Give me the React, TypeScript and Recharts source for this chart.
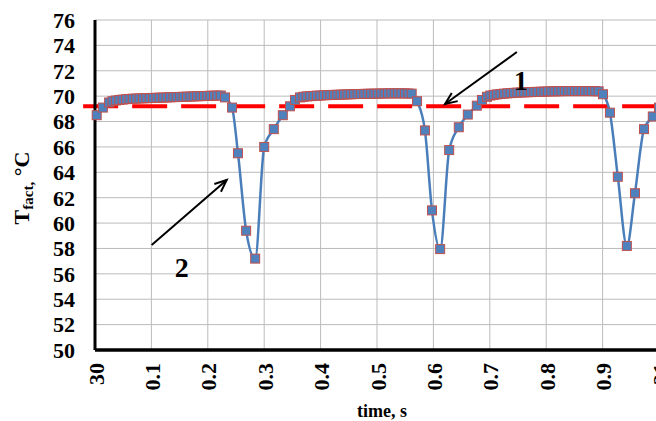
import React from "react";
import {
  LineChart,
  Line,
  XAxis,
  YAxis,
  CartesianGrid,
  ReferenceLine,
  ReferenceDot,
} from "recharts";

// time offset in s (0 = 30 s), measured temperature in °C
const plateau1: [number, number][] = [
  [0.003, 68.5], [0.014, 69.1], [0.025, 69.5], [0.031, 69.6], [0.037, 69.66],
  [0.043, 69.7], [0.049, 69.73], [0.055, 69.76], [0.061, 69.78], [0.067, 69.8],
  [0.073, 69.81], [0.079, 69.82], [0.085, 69.83], [0.091, 69.84], [0.097, 69.85],
  [0.103, 69.86], [0.109, 69.87], [0.115, 69.88], [0.121, 69.89], [0.127, 69.9],
  [0.133, 69.91], [0.139, 69.92], [0.145, 69.93], [0.151, 69.94], [0.157, 69.95],
  [0.163, 69.96], [0.169, 69.97], [0.175, 69.98], [0.181, 69.99], [0.187, 70.0],
  [0.193, 70.01], [0.199, 70.02], [0.205, 70.03], [0.211, 70.04], [0.217, 70.05],
  [0.223, 70.05], [0.2305, 69.9],
];
const dip1: [number, number][] = [
  [0.243, 69.1], [0.2535, 65.5], [0.268, 59.4], [0.284, 57.2], [0.3, 66.0],
  [0.317, 67.4], [0.333, 68.5], [0.3457, 69.2], [0.3546, 69.7], [0.3635, 69.9],
];
const plateau2: [number, number][] = [
  [0.3695, 69.95], [0.3755, 69.98], [0.3815, 70.0], [0.3875, 70.02], [0.3935, 70.04],
  [0.3995, 70.05], [0.4055, 70.07], [0.4115, 70.08], [0.4175, 70.09], [0.4235, 70.1],
  [0.4295, 70.11], [0.4355, 70.12], [0.4415, 70.13], [0.4475, 70.14], [0.4535, 70.15],
  [0.4595, 70.16], [0.4655, 70.17], [0.4715, 70.17], [0.4775, 70.18], [0.4835, 70.19],
  [0.4895, 70.19], [0.4955, 70.2], [0.5015, 70.2], [0.5075, 70.21], [0.5135, 70.21],
  [0.5195, 70.22], [0.5255, 70.22], [0.5315, 70.22], [0.5375, 70.22], [0.5435, 70.22],
  [0.5495, 70.22], [0.5555, 70.21], [0.5615, 70.2], [0.571, 69.6],
];
const dip2: [number, number][] = [
  [0.585, 67.3], [0.5975, 61.0], [0.612, 57.95], [0.628, 65.75], [0.645, 67.55],
  [0.661, 68.55], [0.677, 69.25], [0.686, 69.7], [0.695, 69.95],
];
const plateau3: [number, number][] = [
  [0.701, 70.05], [0.707, 70.1], [0.713, 70.14], [0.719, 70.17], [0.725, 70.2],
  [0.731, 70.22], [0.737, 70.24], [0.743, 70.26], [0.749, 70.28], [0.755, 70.29],
  [0.761, 70.3], [0.767, 70.31], [0.773, 70.32], [0.779, 70.33], [0.785, 70.34],
  [0.791, 70.35], [0.797, 70.36], [0.803, 70.37], [0.809, 70.38], [0.815, 70.38],
  [0.821, 70.39], [0.827, 70.39], [0.833, 70.4], [0.839, 70.4], [0.845, 70.4],
  [0.851, 70.4], [0.857, 70.4], [0.863, 70.4], [0.869, 70.4], [0.875, 70.4],
  [0.881, 70.4], [0.887, 70.39], [0.893, 70.38], [0.9007, 70.15],
];
const dip3: [number, number][] = [
  [0.913, 68.7], [0.927, 63.65], [0.943, 58.2], [0.9574, 62.35], [0.9734, 67.4],
  [0.989, 68.4], [1.0, 69.1],
];

const setPoint = 69.2;
const xTicks = [0, 0.1, 0.2, 0.3, 0.4, 0.5, 0.6, 0.7, 0.8, 0.9, 1];
const xTickLabels = ["30", "0.1", "0.2", "0.3", "0.4", "0.5", "0.6", "0.7", "0.8", "0.9", "31"];
const yTicks = [50, 52, 54, 56, 58, 60, 62, 64, 66, 68, 70, 72, 74, 76];

const data = [...plateau1, ...dip1, ...plateau2, ...dip2, ...plateau3, ...dip3].map(
  ([t, T]) => ({ t, T })
);

const FONT = '"Liberation Serif", "Times New Roman", serif';

function XTick(props: any) {
  const { x, y, index } = props;
  return (
    <text
      x={x + 1}
      y={y}
      transform={`rotate(-90 ${x + 1} ${y})`}
      textAnchor="end"
      dominantBaseline="central"
      fontFamily={FONT}
      fontWeight="bold"
      fontSize={22}
      fill="#000"
    >
      {xTickLabels[index]}
    </text>
  );
}

function SquareDot(props: any) {
  const { cx, cy, index } = props;
  if (cx == null || cy == null) return <g key={index} />;
  return (
    <rect
      key={index}
      x={cx - 4.5}
      y={cy - 4.5}
      width={9}
      height={9}
      fill="#4F81BD"
      stroke="#C0504D"
      strokeWidth={1}
    />
  );
}

function Arrow(props: any) {
  const { x1, y1, x2, y2 } = props;
  const ang = Math.atan2(y2 - y1, x2 - x1);
  const len = 13;
  const spread = 0.4;
  const ax = x2 - len * Math.cos(ang - spread);
  const ay = y2 - len * Math.sin(ang - spread);
  const bx = x2 - len * Math.cos(ang + spread);
  const by = y2 - len * Math.sin(ang + spread);
  return (
    <g>
      <line x1={x1} y1={y1} x2={x2} y2={y2} stroke="#000" strokeWidth={2} />
      <polyline
        points={`${ax},${ay} ${x2},${y2} ${bx},${by}`}
        fill="none"
        stroke="#000"
        strokeWidth={2}
      />
    </g>
  );
}

const numberLabel = (text: string) => (props: any) => (
  <text
    x={props.cx}
    y={props.cy}
    textAnchor="middle"
    fontFamily={FONT}
    fontWeight="bold"
    fontSize={28}
    fill="#000"
  >
    {text}
  </text>
);

export default function App() {
  return (
    <div
      style={{
        position: "fixed",
        left: 0,
        top: 0,
        width: 656,
        height: 421,
        overflow: "hidden",
        background: "#fff",
      }}
    >
      <LineChart
        width={660}
        height={421}
        data={data}
        margin={{ top: 20, right: 1, bottom: 31, left: 35 }}
      >
        <CartesianGrid stroke="#BBBBBB" strokeWidth={1} />
        <XAxis
          dataKey="t"
          type="number"
          domain={[0, 1]}
          ticks={xTicks}
          interval={0}
          height={40}
          axisLine={{ stroke: "#000", strokeWidth: 3.5 }}
          tickLine={false}
          tickSize={0}
          tickMargin={13}
          tick={<XTick />}
        />
        <YAxis
          type="number"
          domain={[50, 76]}
          ticks={yTicks}
          interval={0}
          width={60}
          axisLine={{ stroke: "#000", strokeWidth: 3 }}
          tickLine={false}
          tickSize={0}
          tickMargin={20}
          tick={{ fontSize: 22, fontWeight: "bold", fill: "#000", fontFamily: FONT }}
        />
        <ReferenceLine
          segment={[
            { x: -0.021, y: setPoint },
            { x: 1, y: setPoint },
          ]}
          ifOverflow="visible"
          stroke="#FF0000"
          strokeWidth={4}
          strokeDasharray="35 14"
        />
        <Line
          type="monotone"
          dataKey="T"
          stroke="#4A7EBB"
          strokeWidth={2.5}
          dot={SquareDot}
          activeDot={false}
          isAnimationActive={false}
        />
        <ReferenceLine
          segment={[
            { x: 0.748, y: 73.48 },
            { x: 0.6206, y: 69.38 },
          ]}
          shape={Arrow}
        />
        <ReferenceLine
          segment={[
            { x: 0.1005, y: 58.27 },
            { x: 0.2335, y: 63.39 },
          ]}
          shape={Arrow}
        />
        <ReferenceDot x={0.755} y={70.48} r={0} shape={numberLabel("1")} />
        <ReferenceDot x={0.154} y={55.75} r={0} shape={numberLabel("2")} />
        <text
          x={29}
          y={188}
          transform="rotate(-90 29 188)"
          textAnchor="middle"
          fontFamily={FONT}
          fontWeight="bold"
          fontSize={22}
          fill="#000"
        >
          <tspan>T</tspan>
          <tspan fontSize={15} dy={4}>
            fact,
          </tspan>
          <tspan dy={-4}> °C</tspan>
        </text>
        <text
          x={357}
          y={417}
          fontFamily={FONT}
          fontWeight="bold"
          fontSize={18}
          fill="#000"
        >
          time, s
        </text>
      </LineChart>
    </div>
  );
}
